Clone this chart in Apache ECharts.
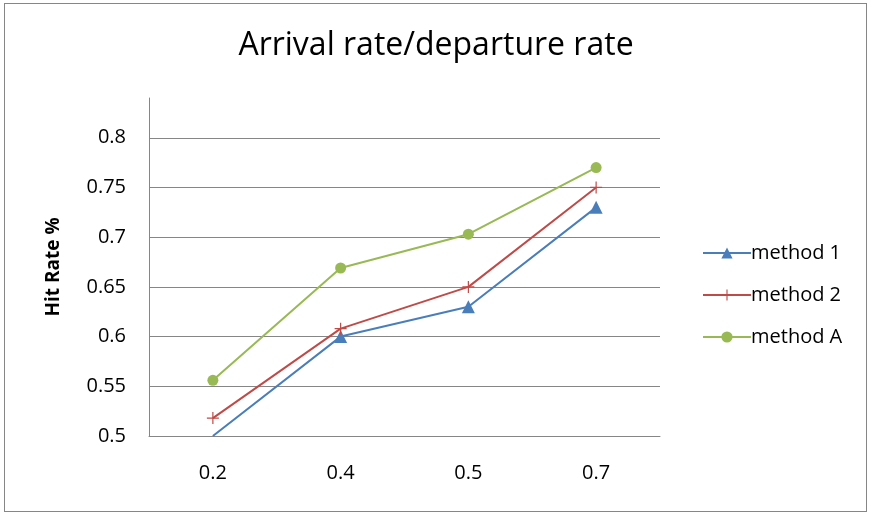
<!DOCTYPE html>
<html>
<head>
<meta charset="utf-8">
<script src="https://cdn.jsdelivr.net/npm/echarts@6/dist/echarts.min.js"></script>
<style>
  html, body { margin: 0; padding: 0; background: #ffffff; }
  #frame { position: absolute; left: 4px; top: 3px; width: 863px; height: 509px; border: 1px solid #868686; box-sizing: border-box; }
  #chart { position: absolute; left: 0; top: 0; width: 872px; height: 515px; }
</style>
</head>
<body>
<div id="frame"></div>
<div id="chart"></div>
<script>
// Arrival rate / departure rate ratios on the x axis
const categories = ['0.2', '0.4', '0.5', '0.7'];

// Hit rate for each method
const method1 = [0.500, 0.600, 0.630, 0.730];
const method2 = [0.518, 0.608, 0.650, 0.750];
const methodA = [0.556, 0.669, 0.703, 0.770];

// Value axis range
const Y_MIN = 0.5;
const Y_MAX = 0.84;
const Y_STEP = 0.05;

const FONT = '"Open Sans", "DejaVu Sans", sans-serif';
const AXIS_GRAY = '#868686';

const chart = echarts.init(document.getElementById('chart'), null, { renderer: 'canvas' });

const plusPath = 'path://M5.4,0H6.6V12H5.4ZM0,5.4H12V6.6H0Z';

function lineSeries(name, data, color, symbol, size) {
  return {
    name: name,
    type: 'line',
    data: data,
    symbol: symbol,
    // a marker sitting on the bottom edge of the plot is not drawn
    symbolSize: function (v) { return v <= Y_MIN ? 0 : size; },
    showAllSymbol: true,
    clip: true,
    lineStyle: { color: color, width: 2 },
    itemStyle: { color: color },
    emphasis: { disabled: true },
    animation: false
  };
}

chart.setOption({
  animation: false,
  title: {
    text: 'Arrival rate/departure rate',
    left: 'center',
    top: 25,
    textStyle: { fontFamily: FONT, fontSize: 32, fontWeight: 'normal', color: '#000000' }
  },
  legend: {
    orient: 'vertical',
    left: 697,
    top: 238,
    itemWidth: 48,
    itemHeight: 14,
    itemGap: 22,
    data: ['method 1', 'method 2', 'method A'],
    textStyle: { fontFamily: FONT, fontSize: 20, color: '#000000', padding: [0, 0, 0, -5] }
  },
  grid: { left: 149, right: 212, top: 98, bottom: 79, containLabel: false },
  xAxis: {
    type: 'category',
    data: categories,
    boundaryGap: true,
    axisLine: { lineStyle: { color: AXIS_GRAY, width: 1 } },
    axisTick: { show: false },
    axisLabel: { fontFamily: FONT, fontSize: 20, color: '#000000', margin: 27 },
    splitLine: { show: false }
  },
  yAxis: {
    type: 'value',
    min: Y_MIN,
    max: Y_MAX,
    interval: Y_STEP,
    name: 'Hit Rate %',
    nameLocation: 'middle',
    nameGap: 86,
    nameRotate: 90,
    nameTextStyle: { fontFamily: FONT, fontSize: 19, fontWeight: 'bold', color: '#000000' },
    axisLine: { show: true, lineStyle: { color: AXIS_GRAY, width: 1 } },
    axisTick: { show: false },
    axisLabel: { fontFamily: FONT, fontSize: 20, color: '#000000', margin: 23, showMaxLabel: false },
    splitLine: { show: true, showMaxLine: false, lineStyle: { color: AXIS_GRAY, width: 1 } }
  },
  series: [
    lineSeries('method 1', method1, '#4A7EBB', 'triangle', 13),
    lineSeries('method 2', method2, '#BE4B48', plusPath, 12),
    lineSeries('method A', methodA, '#98B954', 'circle', 11)
  ]
});
</script>
</body>
</html>
